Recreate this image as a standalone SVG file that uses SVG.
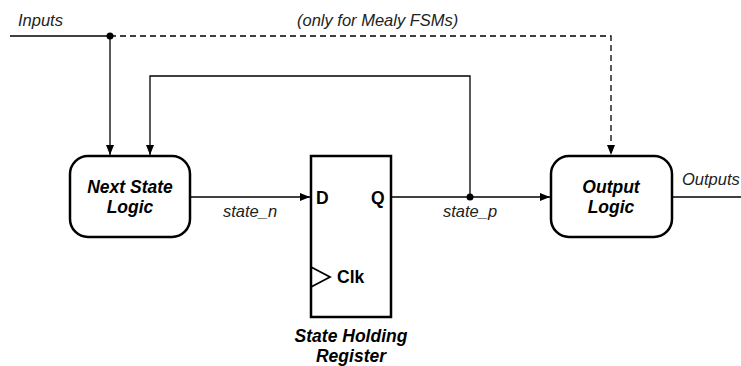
<svg xmlns="http://www.w3.org/2000/svg" width="741" height="366" viewBox="0 0 741 366">
<defs>
<marker id="arr" markerWidth="10" markerHeight="8" refX="10" refY="4" orient="auto" markerUnits="userSpaceOnUse">
<path d="M0,0 L10,4 L0,8 Z" fill="#000"/>
</marker>
<style>
.ln{stroke:#000;stroke-width:1.3;fill:none}
.dash{stroke:#000;stroke-width:1.3;fill:none;stroke-dasharray:6,4}
.box{stroke:#000;stroke-width:2.5;fill:#fff}
.t{font-family:"Liberation Sans",Arial,sans-serif;font-size:16.5px;font-style:italic;fill:#222}
.b{font-family:"Liberation Sans",Arial,sans-serif;font-size:17.5px;font-style:italic;font-weight:bold;fill:#000;text-anchor:middle}
.r{font-family:"Liberation Sans",Arial,sans-serif;font-size:17.5px;font-weight:bold;fill:#000}
</style>
</defs>
<rect width="741" height="366" fill="#fff"/>
<g id="connectors">
<path class="ln" d="M10,36 H110"/>
<path class="dash" d="M110,36 H611 V155" marker-end="url(#arr)"/>
<path class="ln" d="M110,36 V155" marker-end="url(#arr)"/>
<path class="ln" d="M470,197 V76 H150 V155" marker-end="url(#arr)"/>
<path class="ln" d="M190,197 H310" marker-end="url(#arr)"/>
<path class="ln" d="M391,197 H550" marker-end="url(#arr)"/>
<path class="ln" d="M672,197 H741"/>
<circle cx="110" cy="36" r="3.5" fill="#000"/>
<circle cx="470" cy="197" r="3.5" fill="#000"/>
<text class="t" x="18" y="26">Inputs</text>
<text class="t" x="297" y="26">(only for Mealy FSMs)</text>
<text class="t" x="250" y="217" text-anchor="middle">state_n</text>
<text class="t" x="470" y="217" text-anchor="middle">state_p</text>
<text class="t" x="682" y="185">Outputs</text>
</g>
<g id="next-state-logic">
<rect class="box" x="70" y="156" width="120" height="81" rx="18"/>
<text class="b" x="130" y="193">Next State</text>
<text class="b" x="130" y="213">Logic</text>
</g>
<g id="register">
<rect class="box" x="311" y="156" width="80" height="161"/>
<path class="ln" d="M311,267 L330,277 L311,287" style="stroke-width:1.8"/>
<text class="r" x="316" y="204">D</text>
<text class="r" x="371" y="204">Q</text>
<text class="r" x="337" y="283">Clk</text>
<text class="b" x="351" y="342">State Holding</text>
<text class="b" x="351" y="362">Register</text>
</g>
<g id="output-logic">
<rect class="box" x="551" y="156" width="121" height="81" rx="18"/>
<text class="b" x="611" y="193">Output</text>
<text class="b" x="611" y="213">Logic</text>
</g>
</svg>
